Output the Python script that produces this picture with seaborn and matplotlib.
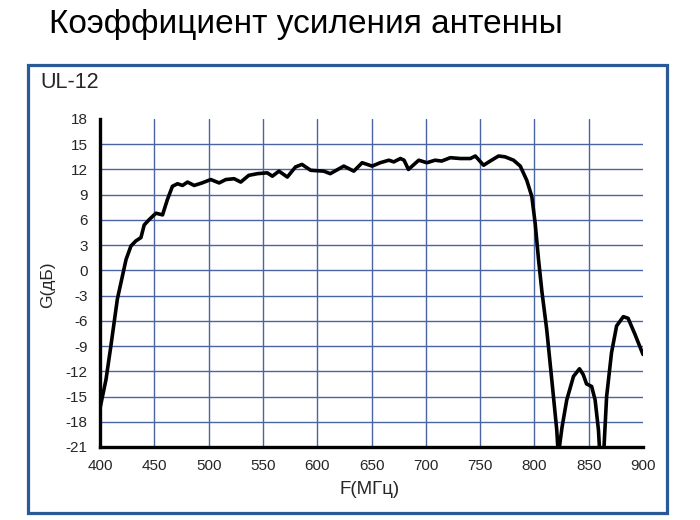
import numpy as np
import pandas as pd
import matplotlib
matplotlib.use('Agg')
import matplotlib.pyplot as plt
from matplotlib.patches import Rectangle
import seaborn as sns

# curve
freq = [400, 405.5, 410, 416, 424, 428.5, 433, 437.7, 440.7, 445, 451.5, 457.6,
        462, 466.7, 471.4, 476, 480.6, 486.7, 494, 502, 509.7, 515.8, 523.5,
        529.6, 537, 545, 554, 558.7, 564.8, 572.5, 580, 586, 594, 606, 612,
        624.5, 633.7, 641.4, 650.6, 658, 666, 670.5, 676.6, 680, 684, 693.5,
        701, 708.5, 714.6, 722.6, 731.8, 741, 745.6, 753.2, 759.3, 767, 773,
        780.8, 787, 793, 797.6, 800.7, 803.8, 806.9, 811.4, 816, 820.6, 822,
        825.5, 829.8, 836, 841.5, 845, 848, 852.7, 855.9, 859, 860.5, 863.5,
        866.5, 871, 875.7, 881.9, 886.3, 892.6, 900]
gain = [-16.4, -13.0, -9.0, -3.4, 1.3, 2.9, 3.5, 3.9, 5.4, 6.0, 6.8, 6.6,
        8.4, 10.0, 10.3, 10.1, 10.5, 10.1, 10.4, 10.8, 10.4, 10.8, 10.9,
        10.5, 11.3, 11.5, 11.6, 11.2, 11.8, 11.1, 12.3, 12.6, 11.9, 11.8, 11.5,
        12.4, 11.8, 12.8, 12.4, 12.8, 13.1, 12.9, 13.3, 13.1, 12.0, 13.1,
        12.8, 13.1, 13.0, 13.4, 13.3, 13.3, 13.6, 12.5, 13.0, 13.6, 13.5,
        13.1, 12.4, 10.7, 8.8, 5.6, 1.3, -2.5, -7.1, -13.0, -19.0, -22.0,
        -18.6, -15.4, -12.6, -11.7, -12.4, -13.5, -13.8, -15.4, -19.0, -22.5, -22.5,
        -15.0, -9.8, -6.6, -5.5, -5.7, -7.6, -10.0]

x_ticks = list(range(400, 901, 50))
y_ticks = list(range(-21, 19, 3))

df = pd.DataFrame({'F': freq, 'G': gain})

sns.set_style('white')
plt.rcParams['font.family'] = ['Liberation Sans', 'DejaVu Sans']
plt.rcParams['axes.unicode_minus'] = False

fig = plt.figure(figsize=(7, 5.2), dpi=100)
fig.patch.set_facecolor('white')

# blue frame
frame = Rectangle((28/700, 1 - 513/520), (667-28)/700, (513-65)/520,
                  transform=fig.transFigure, fill=False,
                  edgecolor='#2a5a96', linewidth=2.3)
fig.patches.append(frame)

fig.text(306/700, 1 - 25/520, 'Коэффициент усиления антенны',
         ha='center', va='center', fontsize=24, color='black')
fig.text(40/700, 1 - 82/520, 'UL-12', ha='left', va='center', fontsize=15.5)

ax = fig.add_axes([100/700, 1 - 447/520, (643-100)/700, (447-119)/520])
sns.lineplot(data=df, x='F', y='G', ax=ax, color='black', linewidth=2.6,
             sort=False, estimator=None, solid_joinstyle='round')

ax.set_xlim(400, 900)
ax.set_ylim(-21, 18)
ax.set_xticks(x_ticks)
ax.set_yticks(y_ticks)
ax.tick_params(length=0, labelsize=11, pad=9)
ax.set_xlabel('')
ax.set_ylabel('')

ax.grid(True, color='#4a64a3', linewidth=1)
ax.set_axisbelow(True)
ax.get_xgridlines()[-1].set_visible(False)
ax.get_xgridlines()[0].set_visible(False)
ax.get_ygridlines()[-1].set_visible(False)
ax.get_ygridlines()[0].set_visible(False)

for s in ['top', 'right']:
    ax.spines[s].set_visible(False)
for s in ['left', 'bottom']:
    ax.spines[s].set_color('black')
    ax.spines[s].set_linewidth(2.4)

fig.text(48/700, 1 - 285/520, 'G(дБ)', rotation=90, ha='center', va='center',
         fontsize=12.5)
fig.text(370/700, 1 - 490/520, 'F(МГц)', ha='center', va='center', fontsize=13.5)

fig.savefig('out.png', dpi=100, facecolor='white')
